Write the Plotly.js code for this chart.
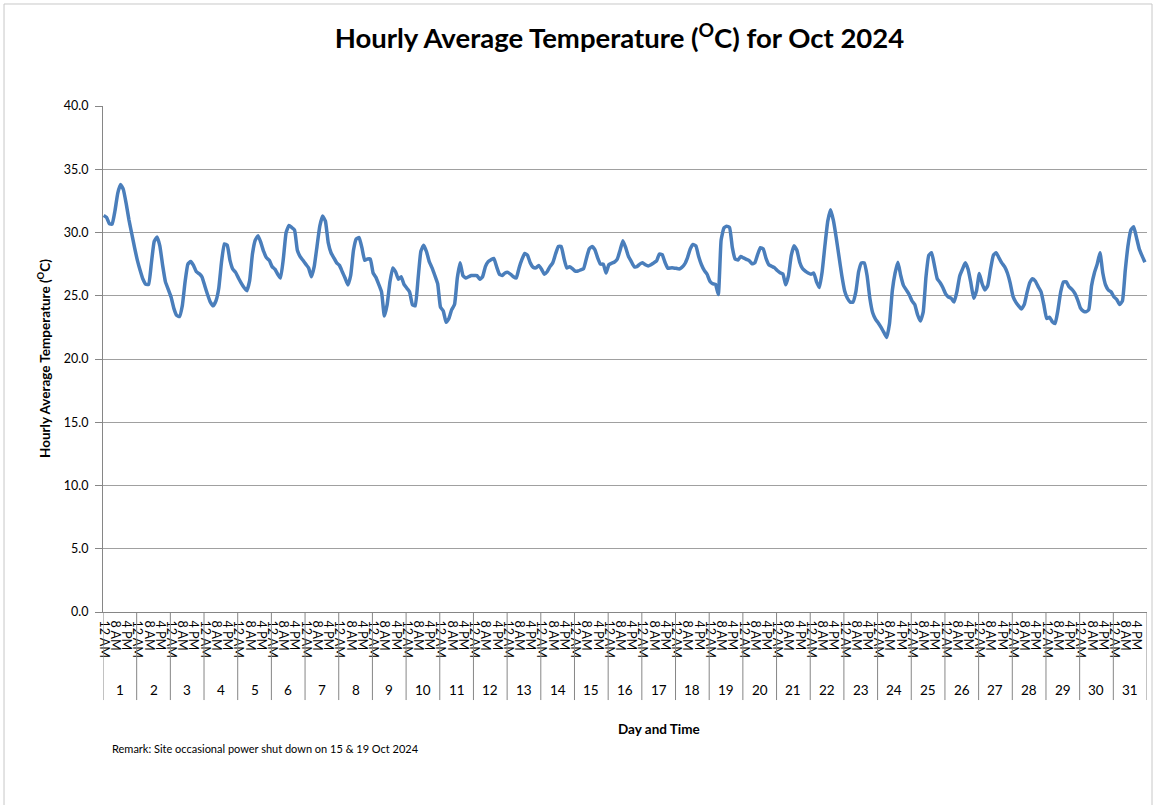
<!DOCTYPE html>
<html><head><meta charset="utf-8">
<script src="https://cdn.plot.ly/plotly-3.0.1.min.js"></script>
<style>html,body{margin:0;padding:0;background:#fff}</style>
</head><body>
<div id="chart" style="width:1157px;height:805px"></div>
<script>
// ---- data (2-hourly readings: 12AM, 2AM, ... 10PM for each day) ----
const dayLabels = ['1','2','3','4','5','6','7','8','9','10','11','12','13','14','15','16','17','18','19','20','21','22','23','24','25','26','27','28','29','30','31'];
const hourTickLabels = ['12 AM', '8 AM', '4 PM'];
const hoursPerDay = 24;
const sampleStepHours = 2;
const labelStepHours = 8;

const week1 = [ // Oct 1 - 7
  31.35, 31.2, 30.7, 30.66, 31.7, 33.1, 33.8, 33.4, 32.3, 31.0, 29.9, 28.8,
  27.8, 27.0, 26.3, 25.9, 25.9, 27.6, 29.3, 29.65, 28.95, 27.4, 26.1, 25.5,
  24.9, 24.0, 23.45, 23.35, 24.2, 26.1, 27.5, 27.7, 27.4, 26.9, 26.75, 26.5,
  25.8, 25.1, 24.5, 24.2, 24.6, 25.6, 27.7, 29.1, 29.0, 27.8, 27.1, 26.85,
  26.4, 26.0, 25.65, 25.4, 26.2, 28.3, 29.4, 29.75, 29.2, 28.5, 28.0, 27.8,
  27.3, 27.1, 26.7, 26.4, 27.9, 30.0, 30.55, 30.4, 30.2, 28.6, 28.1, 27.8,
  27.5, 27.2, 26.5, 27.3, 28.9, 30.5, 31.3, 30.9, 29.2, 28.4, 28.0, 27.6
];
const week2 = [ // Oct 8 - 14
  27.4, 26.9, 26.4, 25.85, 26.6, 28.6, 29.5, 29.6, 28.8, 27.8, 27.9, 27.9,
  26.8, 26.45, 25.9, 25.3, 23.4, 24.3, 26.1, 27.2, 26.9, 26.3, 26.5, 25.9,
  25.6, 25.3, 24.3, 24.2, 26.3, 28.5, 29.0, 28.5, 27.7, 27.2, 26.6, 25.95,
  24.1, 23.8, 22.9, 23.2, 23.9, 24.3, 26.4, 27.6, 26.6, 26.4, 26.5, 26.6,
  26.6, 26.6, 26.3, 26.5, 27.3, 27.7, 27.85, 27.95, 27.3, 26.7, 26.6, 26.8,
  26.85, 26.7, 26.5, 26.4, 27.2, 27.85, 28.35, 28.2, 27.6, 27.25, 27.2, 27.4,
  27.1, 26.7, 26.9, 27.3, 27.6, 28.3, 28.9, 28.9, 27.96, 27.2, 27.3, 27.15
];
const week3 = [ // Oct 15 - 21
  26.95, 26.95, 27.05, 27.15, 27.95, 28.7, 28.9, 28.65, 28.0, 27.5, 27.5, 26.8,
  27.45, 27.57, 27.67, 27.9, 28.6, 29.35, 28.8, 28.1, 27.7, 27.3, 27.3, 27.5,
  27.6, 27.45, 27.35, 27.45, 27.6, 27.75, 28.3, 28.25, 27.65, 27.17, 27.2, 27.2,
  27.17, 27.12, 27.25, 27.5, 28.0, 28.7, 29.05, 28.95, 28.1, 27.45, 27.0, 26.7,
  26.15, 25.95, 25.9, 25.1, 29.4, 30.35, 30.5, 30.4, 28.8, 27.9, 27.83, 28.1,
  27.99, 27.88, 27.78, 27.53, 27.6, 28.25, 28.8, 28.7, 27.95, 27.45, 27.33, 27.22,
  27.0, 26.82, 26.72, 25.86, 26.6, 28.2, 28.95, 28.6, 27.65, 27.15, 26.95, 26.8
];
const week4 = [ // Oct 22 - 28
  26.7, 26.8, 26.1, 25.65, 26.9, 29.0, 30.9, 31.8, 30.95, 29.6, 28.1, 26.6,
  25.4, 24.8, 24.5, 24.5, 25.3, 26.9, 27.6, 27.6, 26.6, 24.8, 23.65, 23.15,
  22.85, 22.5, 22.1, 21.7, 22.8, 25.4, 26.8, 27.65, 26.6, 25.8, 25.45, 25.1,
  24.6, 24.3, 23.5, 23.0, 23.7, 26.5, 28.2, 28.4, 27.4, 26.35, 26.05, 25.65,
  25.15, 24.9, 24.8, 24.5, 25.3, 26.55, 27.1, 27.6, 27.1, 26.0, 24.8, 25.4,
  26.75, 25.95, 25.45, 25.8, 27.1, 28.2, 28.4, 28.0, 27.6, 27.3, 26.8, 26.0,
  24.95, 24.5, 24.2, 23.95, 24.3, 25.25, 26.05, 26.35, 26.15, 25.7, 25.3, 24.3
];
const week5 = [ // Oct 29 - 31
  23.2, 23.3, 22.95, 22.8, 23.85, 25.3, 26.1, 26.1, 25.7, 25.5, 25.2, 24.7,
  24.05, 23.8, 23.73, 23.9, 25.8, 26.8, 27.5, 28.4, 26.8, 25.85, 25.45, 25.3,
  24.9, 24.7, 24.3, 24.6, 27.0, 29.0, 30.2, 30.45, 29.6, 28.7, 28.15, 27.65
];

// ---- build ----
const temps = [].concat(week1, week2, week3, week4, week5);
const hoursIndex = temps.map((_, i) => i * sampleStepHours);
const totalHours = dayLabels.length * hoursPerDay;

const tickVals = [], tickText = [];
for (let h = 0, k = 0; h < totalHours; h += labelStepHours, k++) {
  tickVals.push(h);
  tickText.push(hourTickLabels[k % hourTickLabels.length]);
}

const FONT = 'Lato, "Open Sans", "DejaVu Sans", sans-serif';
const AXIS_GREY = '#868686';

const shapes = [];
for (let d = 0; d <= dayLabels.length; d++) {
  shapes.push({type: 'line', xref: 'x', yref: 'paper',
    x0: d * hoursPerDay - 0.5, x1: d * hoursPerDay - 0.5, y0: 0, y1: -0.174,
    line: {color: AXIS_GREY, width: 1}});
}
// chart-area border
shapes.push({type: 'rect', xref: 'paper', yref: 'paper',
  x0: -0.0948, x1: 1.0048, y0: -0.40, y1: 1.2016,
  line: {color: '#c8c8c8', width: 1}, layer: 'below'});

const annotations = dayLabels.map((lab, d) => ({
  text: lab, xref: 'x', yref: 'paper',
  x: d * hoursPerDay + hoursPerDay / 2 - 0.5, y: -0.154,
  showarrow: false, xanchor: 'center', yanchor: 'middle',
  font: {family: FONT, size: 13.5, color: '#000'}
}));
annotations.push({
  text: '<b>Hourly Average Temperature (<sup>O</sup>C)</b>', textangle: -90,
  xref: 'paper', yref: 'paper', x: -0.0565, y: 0.5, showarrow: false,
  xanchor: 'center', yanchor: 'middle', font: {family: FONT, size: 13.5, color: '#000'}
});
annotations.push({
  text: '<b>Day and Time</b>', xref: 'paper', yref: 'paper', x: 0.5326, y: -0.2312,
  showarrow: false, xanchor: 'center', yanchor: 'middle',
  font: {family: FONT, size: 13.5, color: '#000'}
});
annotations.push({
  text: 'Remark: Site occasional power shut down on 15 &amp; 19 Oct 2024',
  xref: 'paper', yref: 'paper', x: 0.0067, y: -0.2688, showarrow: false,
  xanchor: 'left', yanchor: 'middle', font: {family: FONT, size: 11, color: '#000'}
});

const trace = {
  type: 'scatter', mode: 'lines', x: hoursIndex, y: temps,
  line: {color: '#4A7EBB', width: 3.5, shape: 'spline', smoothing: 0.4},
  hoverinfo: 'y'
};

const layout = {
  width: 1157, height: 805,
  margin: {l: 103, r: 10, t: 106, b: 193},
  paper_bgcolor: '#fff', plot_bgcolor: '#fff',
  showlegend: false,
  title: {text: '<b>Hourly Average Temperature (<sup>O</sup>C) for Oct 2024</b>',
    x: 0.5354, xref: 'container', xanchor: 'center',
    y: 0.952, yref: 'container', yanchor: 'middle',
    font: {family: FONT, size: 27.5, color: '#000'}},
  xaxis: {
    range: [-0.5, totalHours - 0.5], tickmode: 'array', tickvals: tickVals, ticktext: tickText,
    tickangle: 90, ticks: '', showgrid: false, zeroline: false,
    showline: true, linecolor: AXIS_GREY, linewidth: 1, ticklabelstandoff: 5,
    tickfont: {family: FONT, size: 12.5, color: '#000'}, automargin: false, fixedrange: true
  },
  yaxis: {
    range: [0, 40], dtick: 5, tick0: 0, tickformat: '.1f',
    showgrid: true, gridcolor: '#a0a0a0', gridwidth: 1, zeroline: false,
    showline: true, linecolor: AXIS_GREY, linewidth: 1,
    ticks: 'outside', ticklen: 7, tickcolor: AXIS_GREY, ticklabelstandoff: 4,
    tickfont: {family: FONT, size: 12.5, color: '#000'}, automargin: false, fixedrange: true
  },
  shapes: shapes,
  annotations: annotations
};

Plotly.newPlot('chart', [trace], layout, {displayModeBar: false, staticPlot: true});
</script>
</body></html>
